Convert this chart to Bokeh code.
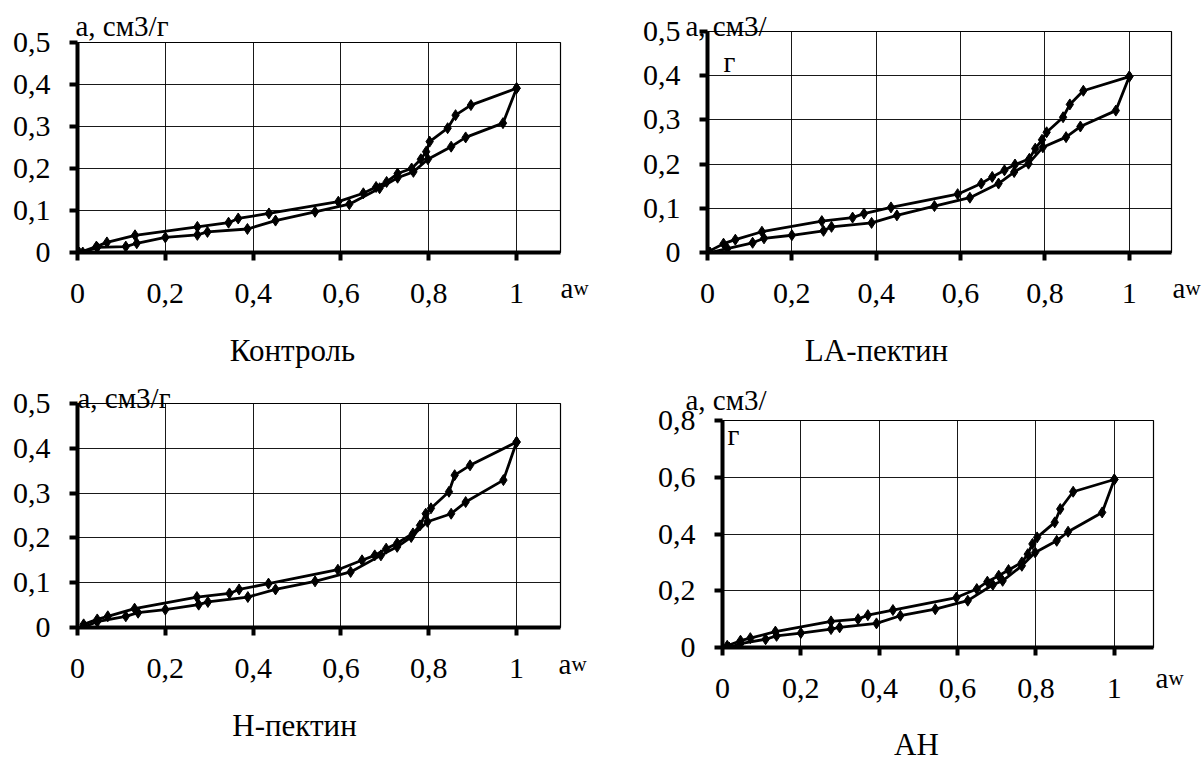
from bokeh.plotting import figure
from bokeh.models import Range1d, FixedTicker, CustomJSTickFormatter, Label, GridBox
from bokeh.embed import file_html
from bokeh.resources import INLINE

# ---------------- data ----------------
x_ticks = [0, 0.2, 0.4, 0.6, 0.8, 1.0]
y_ticks_a = [0, 0.1, 0.2, 0.3, 0.4, 0.5]
y_ticks_b = [0, 0.2, 0.4, 0.6, 0.8]

captions = ["Контроль", "LA-пектин", "Н-пектин", "АН"]
y_title = "a, см3/г"
x_title_main, x_title_sub = "a", "w"

# Контроль
ctrl_ads_x = [0.012, 0.045, 0.11, 0.135, 0.2, 0.273, 0.296, 0.387, 0.451, 0.541, 0.619, 0.688, 0.729, 0.765, 0.798, 0.851, 0.884, 0.969, 1.0]
ctrl_ads_y = [0.0, 0.012, 0.014, 0.022, 0.036, 0.042, 0.049, 0.056, 0.076, 0.097, 0.115, 0.153, 0.178, 0.192, 0.222, 0.252, 0.274, 0.308, 0.391]
ctrl_des_x = [1.0, 0.896, 0.861, 0.843, 0.802, 0.794, 0.782, 0.761, 0.729, 0.704, 0.68, 0.651, 0.594, 0.436, 0.366, 0.344, 0.273, 0.131, 0.067, 0.043, 0.004]
ctrl_des_y = [0.391, 0.351, 0.327, 0.296, 0.264, 0.24, 0.222, 0.2, 0.188, 0.168, 0.156, 0.141, 0.121, 0.093, 0.081, 0.071, 0.061, 0.041, 0.024, 0.014, 0.0]

# LA-пектин
la_ads_x = [0.006, 0.047, 0.107, 0.134, 0.2, 0.275, 0.294, 0.389, 0.449, 0.538, 0.622, 0.69, 0.727, 0.761, 0.795, 0.85, 0.884, 0.968, 1.0]
la_ads_y = [0.0, 0.009, 0.022, 0.032, 0.039, 0.049, 0.058, 0.067, 0.084, 0.105, 0.124, 0.156, 0.182, 0.201, 0.238, 0.261, 0.285, 0.321, 0.398]
la_des_x = [1.0, 0.891, 0.859, 0.843, 0.804, 0.793, 0.777, 0.763, 0.729, 0.704, 0.675, 0.649, 0.593, 0.435, 0.371, 0.344, 0.271, 0.129, 0.066, 0.038, 0.002]
la_des_y = [0.398, 0.366, 0.335, 0.306, 0.272, 0.255, 0.235, 0.212, 0.199, 0.186, 0.171, 0.156, 0.132, 0.102, 0.088, 0.079, 0.071, 0.047, 0.029, 0.02, 0.002]

# Н-пектин
h_ads_x = [0.012, 0.045, 0.11, 0.138, 0.2, 0.276, 0.297, 0.388, 0.451, 0.541, 0.622, 0.691, 0.728, 0.76, 0.797, 0.851, 0.884, 0.97, 1.0]
h_ads_y = [0.0, 0.013, 0.025, 0.033, 0.04, 0.051, 0.057, 0.068, 0.085, 0.103, 0.124, 0.161, 0.18, 0.202, 0.236, 0.254, 0.28, 0.329, 0.414]
h_des_x = [1.0, 0.894, 0.859, 0.846, 0.805, 0.793, 0.78, 0.764, 0.728, 0.703, 0.677, 0.648, 0.593, 0.435, 0.368, 0.346, 0.272, 0.13, 0.069, 0.045, 0.014]
h_des_y = [0.414, 0.362, 0.34, 0.303, 0.266, 0.254, 0.228, 0.21, 0.188, 0.176, 0.161, 0.15, 0.129, 0.098, 0.085, 0.076, 0.068, 0.042, 0.025, 0.018, 0.007]

# АН
an_ads_x = [0.017, 0.046, 0.11, 0.138, 0.2, 0.277, 0.299, 0.393, 0.454, 0.543, 0.626, 0.69, 0.715, 0.764, 0.798, 0.853, 0.882, 0.969, 1.0]
an_ads_y = [0.0, 0.014, 0.029, 0.041, 0.051, 0.065, 0.071, 0.085, 0.112, 0.135, 0.165, 0.221, 0.235, 0.288, 0.335, 0.376, 0.408, 0.476, 0.592]
an_des_x = [1.0, 0.895, 0.862, 0.848, 0.803, 0.791, 0.779, 0.764, 0.73, 0.705, 0.676, 0.649, 0.597, 0.435, 0.371, 0.346, 0.277, 0.135, 0.071, 0.046, 0.012]
an_des_y = [0.592, 0.549, 0.488, 0.441, 0.388, 0.365, 0.329, 0.3, 0.273, 0.253, 0.232, 0.206, 0.176, 0.132, 0.114, 0.1, 0.092, 0.056, 0.033, 0.024, 0.006]

FONT = "Liberation Serif"
XMAX = 1.1
PAGE_W, PAGE_H = 1204, 762


def no_align(p):
    if "frame_align" in p.properties():
        p.frame_align = False


def make_panel(width, height, bl, bt, fw, fh, ymax, yticks, ax, ay, dx, dy):
    br = width - bl - fw
    bb = height - bt - fh
    p = figure(width=width, height=height, x_range=Range1d(0, XMAX), y_range=Range1d(0, ymax),
               output_backend="svg", toolbar_location=None,
               min_border_left=bl, min_border_right=br, min_border_top=bt, min_border_bottom=bb)
    no_align(p)
    p.background_fill_color = "white"
    p.border_fill_color = "white"
    p.outline_line_color = "black"
    p.outline_line_width = 1.2

    fmt = CustomJSTickFormatter(code="var s = String(Math.round(tick*10)/10); return s.replace('.', ',');")
    p.xaxis.ticker = FixedTicker(ticks=x_ticks)
    p.yaxis.ticker = FixedTicker(ticks=yticks)
    for axis in (p.xaxis[0], p.yaxis[0]):
        axis.formatter = fmt
        axis.axis_line_color = "black"
        axis.axis_line_width = 4
        axis.major_tick_line_color = "black"
        axis.major_tick_line_width = 4
        axis.major_tick_out = 8
        axis.major_tick_in = 0
        axis.minor_tick_out = 0
        axis.minor_tick_in = 0
        axis.major_label_text_font = FONT
        axis.major_label_text_font_size = "30px"
        axis.major_label_text_color = "black"
    p.xaxis.major_label_standoff = 23
    p.yaxis.major_label_standoff = 19

    for g in (p.xgrid[0], p.ygrid[0]):
        g.grid_line_color = "black"
        g.grid_line_width = 1
        g.grid_line_alpha = 0.9

    for xs, ys in ((ax, ay), (dx, dy)):
        p.line(xs, ys, line_color="black", line_width=2.8)
        p.scatter(xs, ys, marker="diamond", size=11, fill_color="black", line_color="black")
    return p


p1 = make_panel(600, 372, 77, 42, 483, 210, 0.5, y_ticks_a, ctrl_ads_x, ctrl_ads_y, ctrl_des_x, ctrl_des_y)
p2 = make_panel(604, 372, 107, 31, 464, 221, 0.5, y_ticks_a, la_ads_x, la_ads_y, la_des_x, la_des_y)
p3 = make_panel(600, 390, 77, 31, 483, 224, 0.5, y_ticks_a, h_ads_x, h_ads_y, h_des_x, h_des_y)
p4 = make_panel(604, 390, 122, 48, 431, 227, 0.8, y_ticks_b, an_ads_x, an_ads_y, an_des_x, an_des_y)

# transparent text layer over the whole page (page pixel coordinates)
ov = figure(width=PAGE_W, height=PAGE_H, x_range=Range1d(0, PAGE_W), y_range=Range1d(PAGE_H, 0),
            x_axis_type=None, y_axis_type=None, output_backend="svg", toolbar_location=None,
            min_border=0)
no_align(ov)
ov.outline_line_color = None
ov.background_fill_alpha = 0
ov.border_fill_alpha = 0
ov.grid.visible = False


def add_text(text, px, py, size, align="left", baseline="middle"):
    ov.add_layout(Label(x=px, y=py, text=text, text_font=FONT, text_font_size=size,
                        text_align=align, text_baseline=baseline, text_color="black"))


def add_aw(px, base_y):
    add_text(x_title_main, px, base_y, "29px", baseline="alphabetic")
    add_text(x_title_sub, px + 13, base_y, "21px", baseline="alphabetic")


# y-axis titles
add_text(y_title, 75, 25, "29px")
add_text(y_title, 77, 397, "29px")
add_text(y_title[:-1], 685, 25, "29px")
add_text(y_title[-1], 723, 61, "29px")
add_text(y_title[:-1], 685, 399, "29px")
add_text(y_title[-1], 727, 434, "29px")

# x-axis titles
add_aw(560, 287)
add_aw(1172, 287)
add_aw(558, 663)
add_aw(1155, 677)

# captions
add_text(captions[0], 292, 350, "31px", align="center")
add_text(captions[1], 876, 350, "31px", align="center")
add_text(captions[2], 294, 725, "31px", align="center")
add_text(captions[3], 916, 744, "31px", align="center")

layout = GridBox(children=[(p1, 0, 0), (p2, 0, 1), (p3, 1, 0), (p4, 1, 1), (ov, 0, 0, 2, 2)], spacing=0)
open("out.html", "w").write(file_html(layout, INLINE))
